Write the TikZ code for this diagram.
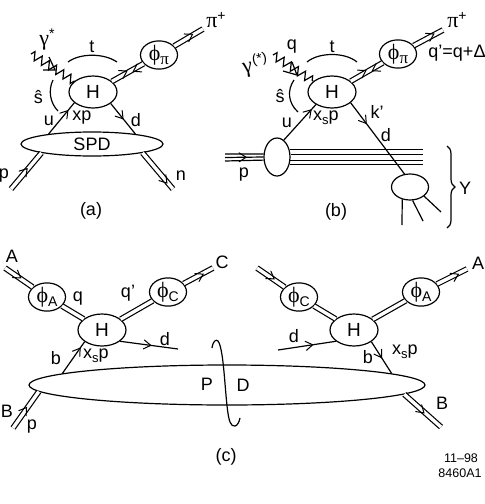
\documentclass[tikz,border=0pt]{standalone}
\usepackage{fontspec}
\setmainfont{Liberation Sans}
\newfontfamily\gr{Liberation Serif}
\usetikzlibrary{shapes.geometric,decorations.pathmorphing,decorations.pathreplacing,decorations.markings,calc}
\tikzset{
  x=1pt,y=-1pt,
  every path/.style={line width=1.2pt},
  blob/.style={draw,ellipse,inner sep=0pt,line width=1.2pt,fill=white},
  hbox/.style={blob,minimum width=48pt,minimum height=32pt,font=\fontsize{19}{19}\selectfont},
  phibox/.style={blob,minimum width=37pt,minimum height=25pt,font=\fontsize{18}{18}\selectfont},
  lab/.style={inner sep=0pt,font=\fontsize{18}{18}\selectfont},
  small/.style={inner sep=0pt,font=\fontsize{12.5}{13}\selectfont},
  twin/.style={double,double distance=3.4pt,line width=1.2pt},
  wavy/.style={decorate,decoration={zigzag,amplitude=4.2pt,segment length=8.5pt}},
  barb/.style 2 args={postaction={decorate},decoration={markings,mark=at position #1 with {\draw[line width=1pt,line cap=round] (-7pt,#2+4.5pt) -- (0pt,#2) -- (-7pt,#2-4.5pt);}}},
}
\newcommand{\fphi}[1]{{\gr\fontsize{22}{22}\selectfont ϕ}\raisebox{-4pt}{\fontsize{14}{14}\selectfont #1}}
\newcommand{\sbs}[1]{\raisebox{-3.5pt}{\fontsize{13}{13}\selectfont #1}}
\newcommand{\sps}[1]{\raisebox{7pt}{\fontsize{14}{14}\selectfont #1}}
\newcommand{\grk}[1]{{\gr\fontsize{22}{22}\selectfont #1}}
\newcommand{\subpi}{{\gr\fontsize{17}{17}\selectfont π}}
\begin{document}
\begin{tikzpicture}
\useasboundingbox (0,0) rectangle (485,504);
% ---------- panel (a)
\coordinate (a1) at (11,189); \coordinate (a2) at (173,189);
\coordinate (a3) at (203,29); \coordinate (ag) at (31,54);
\node[hbox] (aH) at (93,92) {H};
\node[phibox] (aP) at (159,55) {\fphi{\subpi}};
\node[blob,minimum width=142pt,minimum height=24pt,font=\fontsize{18}{18}\selectfont] (aS) at (92,144) {SPD};
\draw[twin] (aH) -- (aP);
\draw[twin] (aP) -- (a3);
\path[barb={.5}{1.7pt}] (aH) -- (aP);
\path[barb={.65}{.8pt}] (aP) -- (a3);
\path[barb={.35}{1.7pt}] (aP) -- (aH);
\draw[wavy] (ag) -- (aH.150);
\draw (49,57) -- (55,70) -- (43,70);
\draw (68,62) .. controls (80,53) and (104,53) .. (117,62);
\draw (53,80) .. controls (48,90) and (50,103) .. (58,111);
\draw[barb={.75}{0pt}] (aS.167) -- (aH.210);
\draw[barb={.5}{0pt}] (aH.327) -- (aS.13);
\draw[twin] (a1) -- (aS.190);
\path[barb={.55}{.8pt}] (a1) -- (aS.190);
\draw[twin] (aS.350) -- (a2);
\path[barb={.82}{-.8pt}] (aS.350) -- (a2);
\node[lab] (a_g) at (47,40) {\grk{γ}\sps{*}};
\node[lab] (a_t) at (92,47) {t};
\node[lab] (a_s) at (38.5,97) {ŝ};
\node[lab] (a_u) at (49,121) {u};
\node[lab] (a_x) at (82,118) {xp};
\node[lab] (a_d) at (136,120) {d};
\node[lab] (a_p) at (4,176) {p};
\node[lab] (a_n) at (181,176) {n};
\node[lab] (a_pi) at (216,20) {\grk{π}\sps{+}};
\node[lab] (a_c) at (91,211) {(a)};
% ---------- panel (b)
\coordinate (b3) at (443,30); \coordinate (bg) at (273,55);
\coordinate (bl1) at (225,154); \coordinate (bl2) at (225,157.5); \coordinate (bl3) at (225,161);
\coordinate (bR) at (423,157);
\coordinate (bf1) at (402,225); \coordinate (bf2) at (423,221); \coordinate (bf3) at (441,212);
\node[hbox] (bH) at (332,92) {H};
\node[phibox] (bP) at (398,54) {\fphi{\subpi}};
\node[blob,minimum width=26pt,minimum height=38pt] (bE) at (277,157) {};
\node[blob,minimum width=37pt,minimum height=26pt] (bY) at (410,187) {};
\draw[twin] (bH) -- (bP);
\draw[twin] (bP) -- (b3);
\path[barb={.5}{1.7pt}] (bH) -- (bP);
\path[barb={.35}{1.7pt}] (bP) -- (bH);
\path[barb={.7}{.8pt}] (bP) -- (b3);
\draw[wavy] (bg) -- (bH.150);
\draw (292,62) -- (297,75) -- (283,71);
\draw (307,62) .. controls (319,52) and (345,52) .. (357,62);
\draw (294,80) .. controls (287,90) and (288,103) .. (298,112);
\draw[barb={.85}{0pt}] (bE.68) -- (bH.218);
\draw[barb={.29}{0pt}] (bH.330) -- (bY.113);
\draw (bY.238) -- (bf1);
\draw (bY.281) -- (bf2);
\draw (bY.327) -- (bf3);
\draw (bE.30) -- (bE.30 -| bR);
\draw (bE.10) -- (bE.10 -| bR);
\draw (bE.-14) -- (bE.-14 -| bR);
\draw (bE.-30) -- (bE.-30 -| bR);
\draw (bl1) -- (bE.167);
\draw (bl3) -- (bE.193);
\draw[barb={.55}{0pt}] (bl2) -- (bE.180);
\draw[decorate,decoration={brace,amplitude=8pt}] (447,146) -- (447,228);
\node[lab,rotate=10] (b_g) at (255,65) {\grk{γ}\kern1pt\sps{(*)}};
\node[lab] (b_q) at (292,47) {q};
\node[lab] (b_t) at (332,47) {t};
\node[lab] (b_s) at (280,96) {ŝ};
\node[lab] (b_u) at (287,123) {u};
\node[lab] (b_x) at (326,118) {x\sbs{s}p};
\node[lab] (b_k) at (377,112) {k'};
\node[lab] (b_d) at (386,135) {d};
\node[lab] (b_p) at (244,175) {p};
\node[lab] (b_Y) at (465,188) {Y};
\node[lab] (b_pi) at (457,20) {\grk{π}\sps{+}};
\node[lab] (b_qq) at (457,53) {q'=q+Δ};
\node[lab] (b_c) at (336,212) {(b)};
% ---------- panel (c)
\coordinate (cA) at (5,268); \coordinate (cC) at (213,268);
\coordinate (cd) at (178,349); \coordinate (cB) at (13,428);
\coordinate (rA0) at (257,268); \coordinate (rA) at (467,269);
\coordinate (rd) at (278,350); \coordinate (rB) at (441,427);
\node[blob,minimum width=396pt,minimum height=40pt] (cS) at (227,385) {};
\node[hbox] (cH) at (102,330) {H};
\node[phibox] (cPA) at (47,297) {\fphi{A}};
\node[phibox] (cPC) at (168,292) {\fphi{C}};
\node[hbox] (rH) at (354,330) {H};
\node[phibox] (rPC) at (299,297) {\fphi{C}};
\node[phibox] (rPA) at (421,292) {\fphi{A}};
\draw[twin] (cA) -- (cPA);
\path[barb={.55}{.8pt}] (cA) -- (cPA);
\draw[twin] (cPA) -- (cH);
\draw[twin] (cH) -- (cPC);
\draw[twin] (cPC) -- (cC);
\path[barb={.65}{-.8pt}] (cPC) -- (cC);
\draw[barb={.53}{0pt}] (cH.328) -- (cd);
\draw[barb={.8}{0pt}] (cS.176) -- (cH.214);
\draw[twin] (cB) -- (cS.182.5);
\path[barb={.55}{.8pt}] (cB) -- (cS.182.5);
\draw[twin] (rA0) -- (rPC);
\path[barb={.6}{.8pt}] (rA0) -- (rPC);
\draw[twin] (rPC) -- (rH);
\draw[twin] (rH) -- (rPA);
\draw[twin] (rPA) -- (rA);
\path[barb={.7}{-.8pt}] (rPA) -- (rA);
\draw[barb={.6}{0pt}] (rd) -- (rH.212);
\draw[barb={.5}{0pt}] (rH.326) -- (cS.4);
\draw[twin] (cS.357.8) -- (rB);
\path[barb={.55}{-.8pt}] (cS.357.8) -- (rB);
\draw (212,348) .. controls (213,341) and (216,339) .. (218,341) .. controls (225,350) and (225,410) .. (230,422) .. controls (232,428) and (238,428) .. (240,418);
\node[lab] (c_A) at (12,256) {A};
\node[lab] (c_C) at (222,262) {C};
\node[lab] (c_q) at (78,299) {q};
\node[lab] (c_qq) at (128,293) {q'};
\node[lab] (c_d) at (165,339) {d};
\node[lab] (c_b) at (56,358) {b};
\node[lab] (c_x) at (96,356) {x\sbs{s}p};
\node[lab] (c_B) at (7,411) {B};
\node[lab] (c_p) at (32,427) {p};
\node[lab] (c_P) at (207,384) {P};
\node[lab] (c_D) at (243,385) {D};
\node[lab] (c_c) at (226,457) {(c)};
\node[lab] (r_A) at (478,263) {A};
\node[lab] (r_d) at (294,336) {d};
\node[lab] (r_b) at (368,357) {b};
\node[lab] (r_x) at (405,352) {x\sbs{s}p};
\node[lab] (r_B) at (442,403) {B};
\node[small] (r_n1) at (461,458) {11--98};
\node[small] (r_n2) at (460,473) {8460A1};
\end{tikzpicture}
\end{document}
